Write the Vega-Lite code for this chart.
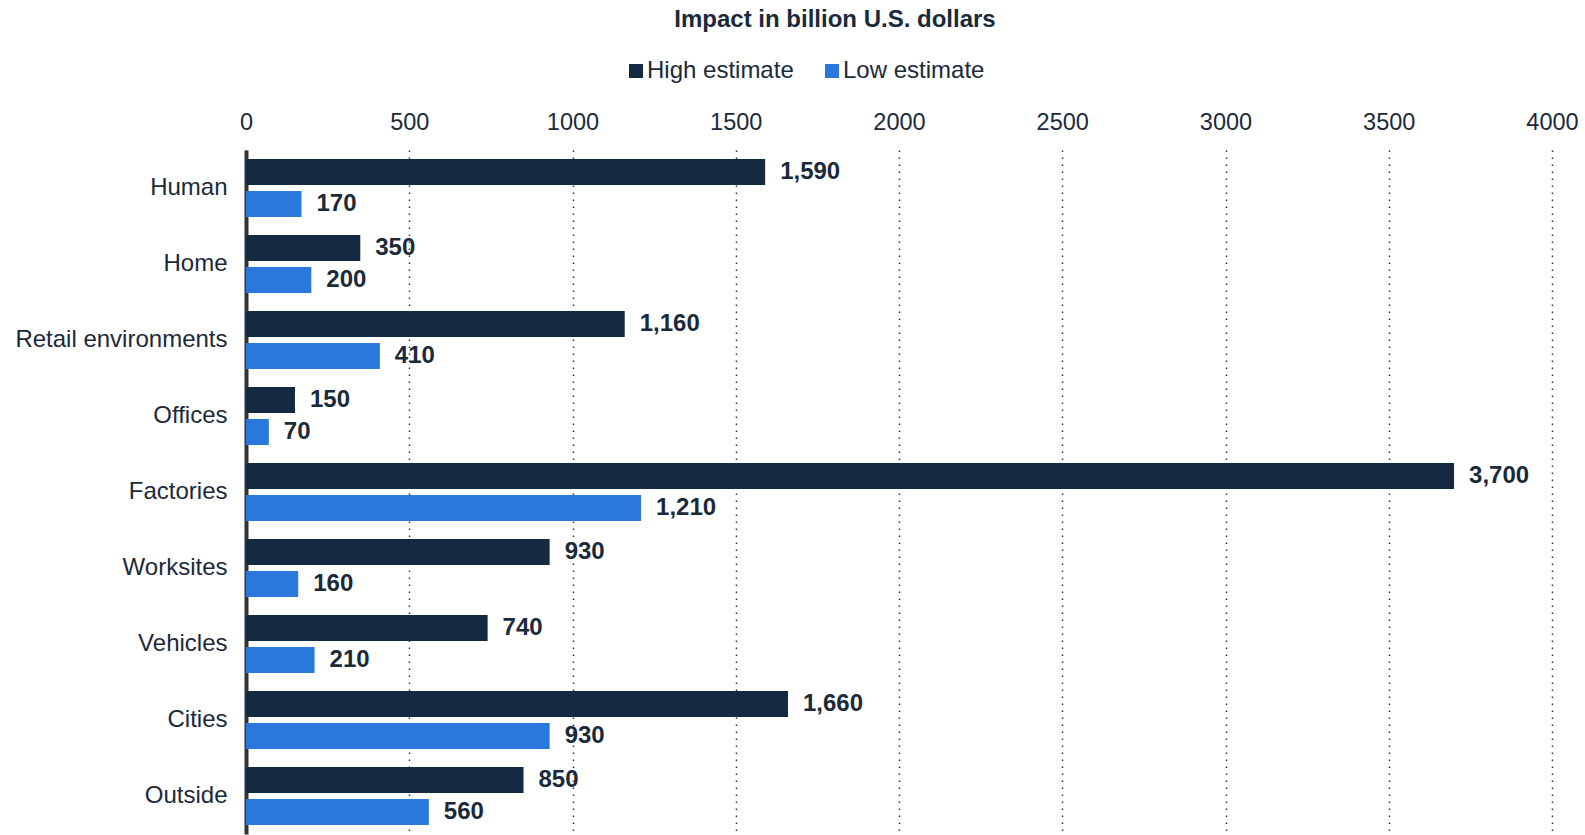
{
  "$schema": "https://vega.github.io/schema/vega-lite/v6.json",
  "width": 1306,
  "height": 684,
  "autosize": {"type": "none"},
  "padding": {"left": 246, "top": 150, "right": 33, "bottom": 1},
  "background": "white",
  "title": {
    "text": "Impact in billion U.S. dollars",
    "font": "Liberation Sans",
    "fontSize": 24,
    "fontWeight": "bold",
    "color": "#1a2a3a",
    "anchor": "middle",
    "dx": -64,
    "offset": 27
  },
  "data": {
    "values": [
      {"category": "Human", "series": "High estimate", "value": 1590},
      {"category": "Human", "series": "Low estimate", "value": 170},
      {"category": "Home", "series": "High estimate", "value": 350},
      {"category": "Home", "series": "Low estimate", "value": 200},
      {"category": "Retail environments", "series": "High estimate", "value": 1160},
      {"category": "Retail environments", "series": "Low estimate", "value": 410},
      {"category": "Offices", "series": "High estimate", "value": 150},
      {"category": "Offices", "series": "Low estimate", "value": 70},
      {"category": "Factories", "series": "High estimate", "value": 3700},
      {"category": "Factories", "series": "Low estimate", "value": 1210},
      {"category": "Worksites", "series": "High estimate", "value": 930},
      {"category": "Worksites", "series": "Low estimate", "value": 160},
      {"category": "Vehicles", "series": "High estimate", "value": 740},
      {"category": "Vehicles", "series": "Low estimate", "value": 210},
      {"category": "Cities", "series": "High estimate", "value": 1660},
      {"category": "Cities", "series": "Low estimate", "value": 930},
      {"category": "Outside", "series": "High estimate", "value": 850},
      {"category": "Outside", "series": "Low estimate", "value": 560}
    ]
  },
  "encoding": {
    "y": {
      "field": "category",
      "type": "nominal",
      "sort": null,
      "scale": {"paddingInner": 0.237, "paddingOuter": 0.1185},
      "axis": {
        "title": null,
        "domain": true,
        "domainColor": "#333333",
        "domainWidth": 4,
        "ticks": false,
        "labelFont": "Liberation Sans",
        "labelFontSize": 24,
        "labelColor": "#1a2a3a",
        "labelPadding": 19,
        "labelLimit": 0
      }
    },
    "yOffset": {
      "field": "series",
      "type": "nominal",
      "sort": ["High estimate", "Low estimate"],
      "scale": {"paddingInner": 0.1875, "paddingOuter": 0}
    },
    "x": {
      "field": "value",
      "type": "quantitative",
      "scale": {"domain": [0, 4000], "nice": false},
      "axis": {
        "orient": "top",
        "title": null,
        "values": [0, 500, 1000, 1500, 2000, 2500, 3000, 3500, 4000],
        "format": "d",
        "domain": false,
        "ticks": false,
        "grid": true,
        "gridColor": "#333333",
        "gridWidth": 1.5,
        "gridDash": [1.5, 5.5],
        "labelFont": "Liberation Sans",
        "labelFontSize": 23.5,
        "labelColor": "#1a2a3a",
        "labelPadding": 16,
        "labelFlush": false
      }
    }
  },
  "layer": [
    {
      "mark": {"type": "bar"},
      "encoding": {
        "color": {
          "field": "series",
          "type": "nominal",
          "scale": {"domain": ["High estimate", "Low estimate"], "range": ["#132a40", "#2a78dc"]},
          "legend": {
            "title": null,
            "orient": "none",
            "legendX": 378,
            "legendY": -91,
            "direction": "horizontal",
            "symbolType": "square",
            "symbolSize": 196,
            "symbolStrokeWidth": 0,
            "labelFont": "Liberation Sans",
            "labelFontSize": 24,
            "labelColor": "#1a2a3a",
            "labelOffset": -1,
            "columnPadding": 26
          }
        }
      }
    },
    {
      "mark": {
        "type": "text",
        "align": "left",
        "baseline": "middle",
        "dx": 15,
        "font": "Liberation Sans",
        "fontSize": 24,
        "fontWeight": "bold",
        "color": "#1a2a3a"
      },
      "encoding": {
        "text": {"field": "value", "type": "quantitative", "format": ","}
      }
    }
  ],
  "config": {"view": {"stroke": null}}
}
